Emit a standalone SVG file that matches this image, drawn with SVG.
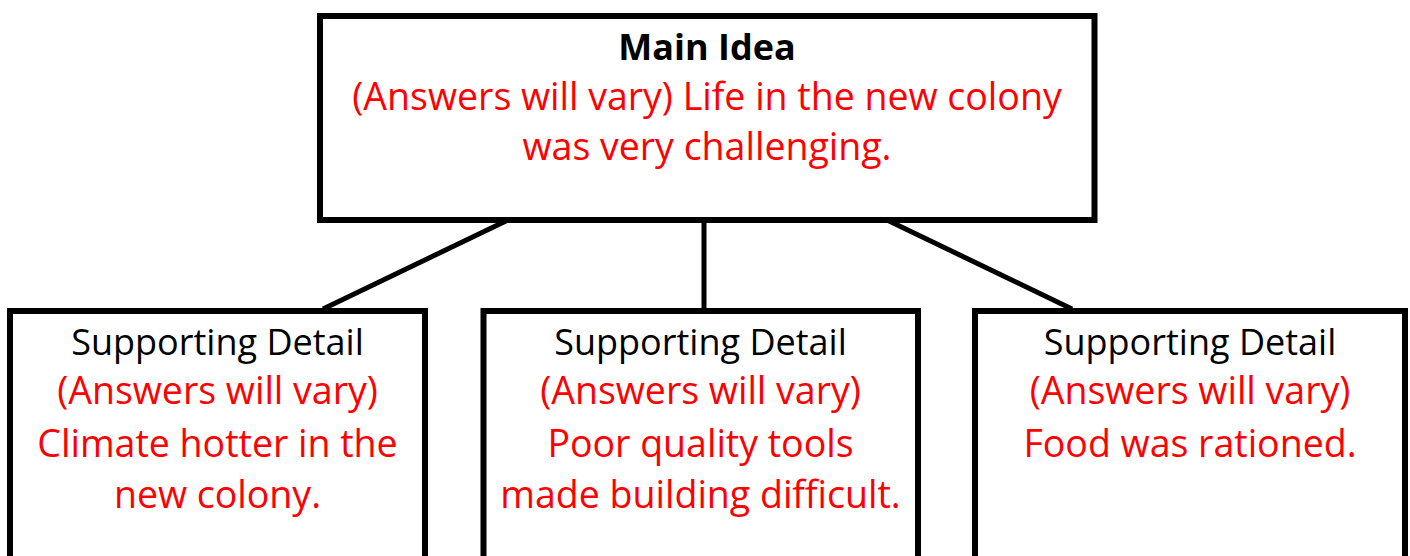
<svg xmlns="http://www.w3.org/2000/svg" width="1410" height="556" viewBox="0 0 1410 556">
<style>
.box{fill:#fff;stroke:#000;stroke-width:6}
.conn line{stroke:#000;stroke-width:5}
text{font-family:"Open Sans","Noto Sans",sans-serif;font-size:36px;text-anchor:middle}
.b{fill:#000}
.r{fill:#ff0000;font-size:37.5px}
.bold{font-weight:bold}
</style>
<rect width="1410" height="556" fill="#fff"/>
<g id="connectors" class="conn">
<line x1="508" y1="220" x2="323" y2="309"/>
<line x1="704" y1="220" x2="704" y2="311"/>
<line x1="887" y1="220" x2="1072" y2="309"/>
</g>
<g id="main">
<rect class="box" x="320" y="16" width="774.5" height="204"/>
<text class="b bold" x="707" y="60">Main Idea</text>
<text class="r" x="707" y="110">(Answers will vary) Life in the new colony</text>
<text class="r" x="707" y="160">was very challenging.</text>
</g>
<g id="detail1">
<rect class="box" x="10" y="311" width="415" height="300"/>
<text class="b" x="217.5" y="355">Supporting Detail</text>
<text class="r" x="217.5" y="404">(Answers will vary)</text>
<text class="r" x="217.5" y="457">Climate hotter in the</text>
<text class="r" x="217.5" y="508">new colony.</text>
</g>
<g id="detail2">
<rect class="box" x="483.5" y="311" width="434.5" height="300"/>
<text class="b" x="700.5" y="355">Supporting Detail</text>
<text class="r" x="700.5" y="404">(Answers will vary)</text>
<text class="r" x="700.5" y="457">Poor quality tools</text>
<text class="r" x="700.5" y="508">made building difficult.</text>
</g>
<g id="detail3">
<rect class="box" x="975" y="311" width="430" height="300"/>
<text class="b" x="1190" y="355">Supporting Detail</text>
<text class="r" x="1190" y="404">(Answers will vary)</text>
<text class="r" x="1190" y="457">Food was rationed.</text>
</g>
</svg>
